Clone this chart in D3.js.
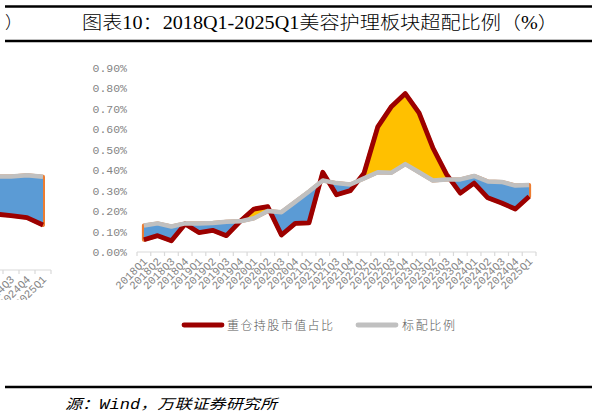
<!DOCTYPE html>
<html>
<head>
<meta charset="utf-8">
<title>美容护理板块超配比例</title>
<style>
  body { margin: 0; background: #fff; }
  svg text { font-kerning: none; }
</style>
</head>
<body>
<div id="container"></div>
<script src="https://d3js.org/d3.v7.min.js"></script>
<script>

// quarters on the x axis
const quarters = [
  "2018Q1","2018Q2","2018Q3","2018Q4",
  "2019Q1","2019Q2","2019Q3","2019Q4",
  "2020Q1","2020Q2","2020Q3","2020Q4",
  "2021Q1","2021Q2","2021Q3","2021Q4",
  "2022Q1","2022Q2","2022Q3","2022Q4",
  "2023Q1","2023Q2","2023Q3","2023Q4",
  "2024Q1","2024Q2","2024Q3","2024Q4",
  "2025Q1"
];

// 重仓持股市值占比 (%)
const heavyHold = [
  0.060, 0.080, 0.055, 0.137, 0.095, 0.106, 0.080, 0.150,
  0.210, 0.222, 0.083, 0.140, 0.142, 0.390, 0.280, 0.300,
  0.385, 0.612, 0.712, 0.775, 0.680, 0.510, 0.380, 0.288,
  0.337, 0.265, 0.240, 0.210, 0.271
];

// 标配比例 (%)
const benchmark = [
  0.130, 0.140, 0.125, 0.140, 0.140, 0.142, 0.148, 0.150,
  0.165, 0.200, 0.195, 0.245, 0.296, 0.350, 0.337, 0.330,
  0.360, 0.390, 0.388, 0.430, 0.390, 0.350, 0.355, 0.355,
  0.372, 0.345, 0.343, 0.325, 0.328
];

const yTicks = [0, 0.1, 0.2, 0.3, 0.4, 0.5, 0.6, 0.7, 0.8, 0.9];

// tail of the previous figure, cut off at the left edge of the page
const prevQuarters = ["2024Q2", "2024Q3", "2024Q4", "2025Q1"];
const prevHeavy = [0.280, 0.272, 0.262, 0.225];
const prevBench = [0.468, 0.468, 0.474, 0.466];

const titleText = "图表10：2018Q1-2025Q1美容护理板块超配比例（%）";
const sourceText = "源：Wind，万联证券研究所";
const legendNames = ["重仓持股市值占比", "标配比例"];

const width = 596;
const height = 418;

const colors = {
  red: "#9c0000",
  gray: "#c0c0c0",
  yellow: "#ffc000",
  blue: "#5b9bd5",
  orange: "#ed7d31",
  axis: "#d9d9d9",
  label: "#858585"
};

const svg = d3.select("#container")
  .append("svg")
  .attr("width", width)
  .attr("height", height)
  .style("display", "block");

const defs = svg.append("defs");

// header / footer rules and text
const rules = [6.5, 41, 387];
svg.selectAll(".rule")
  .data(rules)
  .enter().append("line")
  .attr("x1", 5).attr("x2", 592)
  .attr("y1", d => d).attr("y2", d => d)
  .style("stroke", "#000")
  .style("stroke-width", 2.5);

svg.append("text")
  .attr("x", 5).attr("y", 29)
  .text("）")
  .style("font-family", "'Liberation Serif','Noto Sans CJK SC'")
  .style("font-weight", 300)
  .style("font-size", "17px");

svg.append("text")
  .attr("x", 82).attr("y", 29)
  .attr("textLength", 476)
  .attr("lengthAdjust", "spacingAndGlyphs")
  .text(titleText)
  .style("font-family", "'Liberation Serif','Noto Sans CJK SC'")
  .style("font-weight", 300)
  .style("font-size", "18px");

svg.append("text")
  .attr("x", 65).attr("y", 409)
  .attr("textLength", 212)
  .attr("lengthAdjust", "spacingAndGlyphs")
  .text(sourceText)
  .style("font-family", "'Liberation Mono','Noto Sans CJK SC'")
  .style("font-style", "italic")
  .style("font-size", "14px");

// draws one band chart (area between two series + the lines + category axis)
function drawChart(g, cats, hv, bm, x, y, clipId) {
  const data = cats.map((q, i) => ({q: q, h: hv[i], b: bm[i]}));
  const cx = q => x(q) + x.bandwidth() / 2;
  const y0 = y.range()[0];
  const yTop = y.range()[1] - 40;

  const band = d3.area()
    .x(d => cx(d.q))
    .y0(d => y(d.b))
    .y1(d => y(d.h));

  const above = d3.area()
    .x(d => cx(d.q))
    .y0(d => y(d.b))
    .y1(yTop);

  const below = d3.area()
    .x(d => cx(d.q))
    .y0(d => y(d.b))
    .y1(y0 + 40);

  defs.append("clipPath").attr("id", clipId + "-above")
    .append("path").attr("d", above(data));
  defs.append("clipPath").attr("id", clipId + "-below")
    .append("path").attr("d", below(data));

  // axis line with ticks between categories
  const xr = x.range();
  g.append("line")
    .attr("x1", xr[0]).attr("x2", xr[1])
    .attr("y1", y0).attr("y2", y0)
    .style("stroke", colors.axis)
    .style("stroke-width", 1.2);

  g.selectAll(".tick-mark")
    .data(cats.map(q => x(q)).concat([xr[1]]))
    .enter().append("line")
    .attr("x1", d => d).attr("x2", d => d)
    .attr("y1", y0).attr("y2", y0 + 4)
    .style("stroke", colors.axis)
    .style("stroke-width", 1.2);

  g.selectAll(".xlab")
    .data(cats)
    .enter().append("text")
    .attr("transform", d => `translate(${cx(d) + 4}, ${y0 + 10}) rotate(-45)`)
    .attr("text-anchor", "end")
    .text(d => d)
    .style("font-family", "'Liberation Mono'")
    .style("font-size", "11px")
    .style("fill", colors.label);

  // orange underlay shows at the band's ends
  g.append("path")
    .attr("d", band(data))
    .style("fill", colors.orange)
    .style("stroke", colors.orange)
    .style("stroke-width", 4)
    .style("stroke-linejoin", "round");

  g.append("path")
    .attr("d", band(data))
    .attr("clip-path", `url(#${clipId}-below)`)
    .style("fill", colors.blue);

  g.append("path")
    .attr("d", band(data))
    .attr("clip-path", `url(#${clipId}-above)`)
    .style("fill", colors.yellow);

  const lineH = d3.line().x(d => cx(d.q)).y(d => y(d.h));
  const lineB = d3.line().x(d => cx(d.q)).y(d => y(d.b));

  g.append("path")
    .attr("d", lineH(data))
    .style("fill", "none")
    .style("stroke", colors.red)
    .style("stroke-width", 4.8)
    .style("stroke-linejoin", "round");

  g.append("path")
    .attr("d", lineB(data))
    .style("fill", "none")
    .style("stroke", colors.gray)
    .style("stroke-width", 4.5)
    .style("stroke-linejoin", "round");
}

// main chart
const xScale = d3.scaleBand().domain(quarters).range([137, 536]);
const yScale = d3.scaleLinear().domain([0, 0.9]).range([252, 68]);

const main = svg.append("g");

main.selectAll(".ylab")
  .data(yTicks)
  .enter().append("text")
  .attr("x", 127)
  .attr("y", d => yScale(d) + 4)
  .attr("text-anchor", "end")
  .text(d => d3.format(".2f")(d) + "%")
  .style("font-family", "'Liberation Mono'")
  .style("font-size", "11.5px")
  .style("fill", colors.label);

drawChart(main, quarters, heavyHold, benchmark, xScale, yScale, "main");

// leftover piece of the previous chart
defs.append("clipPath").attr("id", "prev-clip")
  .append("rect").attr("x", 0).attr("y", 0).attr("width", 52).attr("height", 300);

const prevX = d3.scaleBand().domain(prevQuarters).range([-13, 51]);
const prevY = d3.scaleLinear().domain([0, 1]).range([270, 70]);
const prev = svg.append("g").attr("clip-path", "url(#prev-clip)");
drawChart(prev, prevQuarters, prevHeavy, prevBench, prevX, prevY, "prev");

// legend
const legend = svg.append("g").attr("transform", "translate(0, 325)");
const legendItems = [
  {name: legendNames[0], color: colors.red, x: 184, tx: 227, tl: 106},
  {name: legendNames[1], color: colors.gray, x: 358, tx: 402, tl: 53}
];
legend.selectAll(".lg-line")
  .data(legendItems)
  .enter().append("line")
  .attr("x1", d => d.x).attr("x2", d => d.x + 38)
  .attr("y1", 0).attr("y2", 0)
  .style("stroke", d => d.color)
  .style("stroke-width", 4.8)
  .style("stroke-linecap", "round");
legend.selectAll(".lg-text")
  .data(legendItems)
  .enter().append("text")
  .attr("x", d => d.tx).attr("y", 4.5)
  .attr("textLength", d => d.tl)
  .attr("lengthAdjust", "spacing")
  .text(d => d.name)
  .style("font-family", "'Noto Sans CJK SC'")
  .style("font-weight", 300)
  .style("font-size", "12px")
  .style("fill", "#595959");

</script>
</body>
</html>
